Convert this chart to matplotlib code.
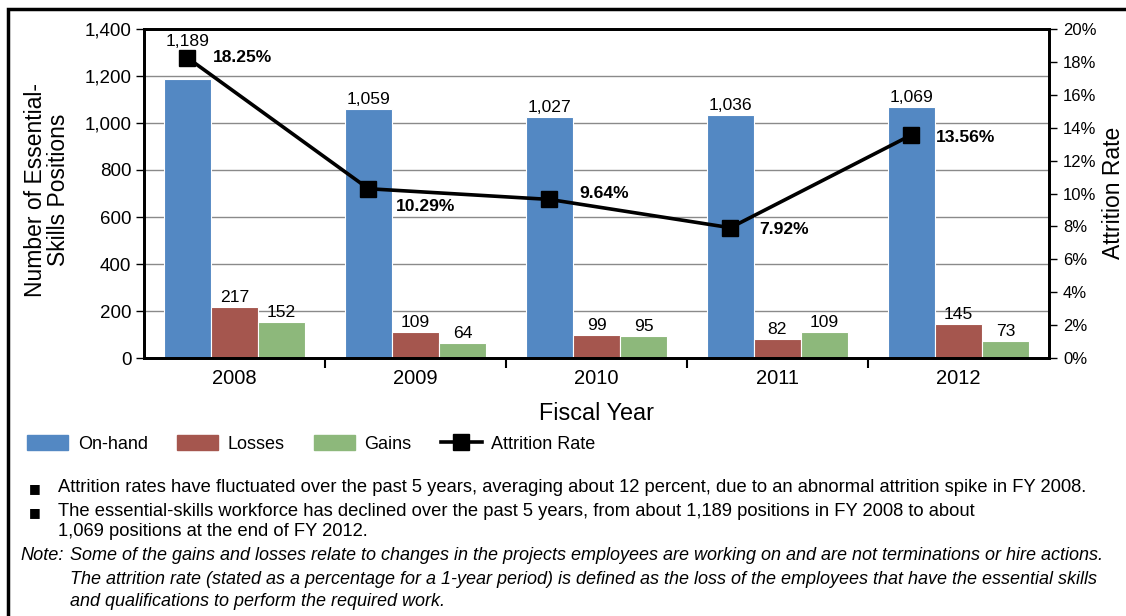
import matplotlib.pyplot as plt
from matplotlib.patches import Patch, Rectangle
from matplotlib.lines import Line2D
from matplotlib.ticker import FuncFormatter, FixedLocator
import numpy as np

plt.rcParams['font.family'] = ['Liberation Sans', 'DejaVu Sans']

# Dữ liệu
years = ["2008", "2009", "2010", "2011", "2012"]
on_hand = [1189, 1059, 1027, 1036, 1069]
losses = [217, 109, 99, 82, 145]
gains = [152, 64, 95, 109, 73]
attrition = [18.25, 10.29, 9.64, 7.92, 13.56]

c_blue = "#5388c3"
c_red = "#a5564e"
c_green = "#8db87b"

fig = plt.figure(figsize=(11.26, 6.16), dpi=100)
ax = fig.add_axes([144 / 1126, 1 - 358 / 616, 905 / 1126, 329 / 616])

x = np.arange(len(years))
w = 0.26
ax.bar(x - w, on_hand, w, color=c_blue, edgecolor="white", linewidth=0.8)
ax.bar(x, losses, w, color=c_red, edgecolor="white", linewidth=0.8)
ax.bar(x + w, gains, w, color=c_green, edgecolor="white", linewidth=0.8)

# nhãn giá trị trên cột
onhand_dy = [30, 2, 2, 2, 2]
for i, v in enumerate(on_hand):
    ax.annotate(f"{v:,}", (x[i] - w, v), xytext=(0, onhand_dy[i]), textcoords="offset pixels",
                ha="center", va="bottom", fontsize=12.6)
for i, v in enumerate(losses):
    ax.annotate(f"{v:,}", (x[i], v), xytext=(0, 2), textcoords="offset pixels",
                ha="center", va="bottom", fontsize=12.6)
for i, v in enumerate(gains):
    ax.annotate(f"{v:,}", (x[i] + w, v), xytext=(0, 2), textcoords="offset pixels",
                ha="center", va="bottom", fontsize=12.6)

ax.set_xlim(-0.5, 4.5)
ax.set_ylim(0, 1400)
ax.set_yticks(range(0, 1401, 200))
ax.yaxis.set_major_formatter(FuncFormatter(lambda v, p: f"{int(v):,}"))
ax.set_xticks(x)
ax.set_xticklabels(years, fontsize=14.5)
ax.xaxis.set_minor_locator(FixedLocator([0.5, 1.5, 2.5, 3.5]))
ax.tick_params(axis="x", which="major", length=0, pad=8)
ax.tick_params(axis="x", which="minor", length=7, width=1.5, direction="out")
ax.tick_params(axis="y", labelsize=13.5, length=6, width=1, direction="out", pad=3)
ax.yaxis.grid(True, color="#8a8a8a", linewidth=1)
ax.set_axisbelow(True)
for s in ax.spines.values():
    s.set_linewidth(2)

ax.set_xlabel("Fiscal Year", fontsize=16.8)
ax.xaxis.set_label_coords(0.5, -0.135)

# trục phụ: tỷ lệ hao hụt
ax2 = ax.twinx()
ax2.set_ylim(0, 20)
ax2.set_yticks(range(0, 21, 2))
ax2.yaxis.set_major_formatter(FuncFormatter(lambda v, p: f"{int(v)}%"))
ax2.tick_params(axis="y", labelsize=12, length=6, width=1, direction="out", pad=4)
for s in ax2.spines.values():
    s.set_linewidth(2)
ax2.plot(x - w, attrition, color="black", linewidth=2.6, marker="s", markersize=11)

rate_off = [(25, 0), (27, -18), (30, 6), (29, -2), (24, -3)]
for i, v in enumerate(attrition):
    ax2.annotate(f"{v:.2f}%", (x[i] - w, v), xytext=rate_off[i], textcoords="offset pixels",
                 ha="left", va="center", fontsize=12.6, fontweight="bold")


def px(xp, yp):
    return xp / 1126, 1 - yp / 616


# nhãn trục dọc
fig.text(*px(47, 190), "Number of Essential-\nSkills Positions", rotation=90, fontsize=16.5,
         ha="center", va="center", linespacing=0.95, multialignment="center")
fig.text(*px(1113, 193), "Attrition Rate", rotation=90, fontsize=16.5, ha="center", va="center")

# chú giải
handles = [Patch(color=c_blue), Patch(color=c_red), Patch(color=c_green),
           Line2D([], [], color="black", linewidth=2.6, marker="s", markersize=11)]
fig.legend(handles, ["On-hand", "Losses", "Gains", "Attrition Rate"], ncol=4,
           loc="center left", bbox_to_anchor=(27 / 1126, 1 - 444 / 616), frameon=False,
           borderpad=0, borderaxespad=0,
           fontsize=13, handlelength=2.27, handleheight=0.9, handletextpad=0.55, columnspacing=1.6)

# ghi chú
for yb in [489, 513]:
    fig.text(*px(35, yb), "\u25a0", fontsize=9, va="center", ha="center", family="DejaVu Sans")
fig.text(*px(58, 488), "Attrition rates have fluctuated over the past 5 years, averaging about 12 percent, "
         "due to an abnormal attrition spike in FY 2008.", fontsize=13.2, va="center")
fig.text(*px(58, 512), "The essential-skills workforce has declined over the past 5 years, from about "
         "1,189 positions in FY 2008 to about", fontsize=13.2, va="center")
fig.text(*px(58, 531), "1,069 positions at the end of FY 2012.", fontsize=13.2, va="center")
fig.text(*px(20, 556), "Note:", fontsize=13.1, va="center", style="italic")
note = ["Some of the gains and losses relate to changes in the projects employees are working on "
        "and are not terminations or hire actions.",
        "The attrition rate (stated as a percentage for a 1-year period) is defined as the loss of "
        "the employees that have the essential skills",
        "and qualifications to perform the required work."]
for k, t in enumerate(note):
    fig.text(*px(70, 556 + 23 * k), t, fontsize=12.95, va="center", style="italic")

# khung viền
fig.patches.append(Rectangle((8 / 1126, -0.1), 1.2, 1 - 9 / 616 + 0.1, transform=fig.transFigure,
                             fill=False, edgecolor="black", linewidth=2.5))

fig.savefig("out.png", dpi=100)
